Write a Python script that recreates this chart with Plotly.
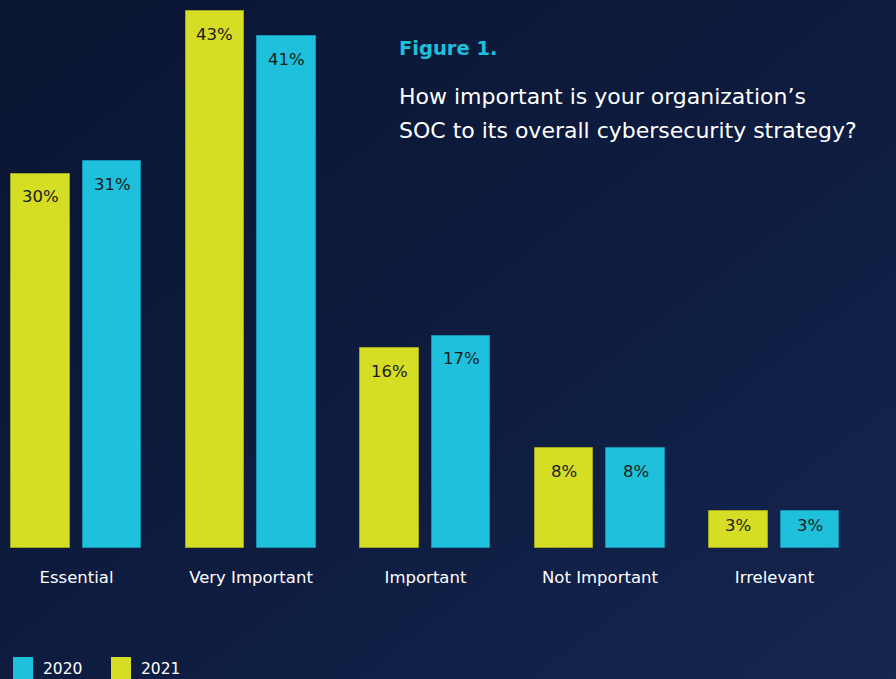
import base64
import plotly.graph_objects as go

# Survey results: importance of the SOC to overall cybersecurity strategy
categories = ["Essential", "Very Important", "Important", "Not Important", "Irrelevant"]
values_2021 = [30, 43, 16, 8, 3]
values_2020 = [31, 41, 17, 8, 3]
series_names = ["2021", "2020"]

YELLOW = "#d5dd24"
CYAN = "#1fc0dc"
FONT = "'DejaVu Sans', 'Open Sans', sans-serif"

W, H = 896, 679
BASE_PX = 548          # pixel row of the zero line
PX_PER_UNIT = 12.48    # vertical pixels per percentage point


def py(ypx):
    """Convert a page pixel row to paper y (plot area spans rows 0..BASE_PX)."""
    return (BASE_PX - ypx) / BASE_PX


# Diagonal navy gradient used as the page background
svg = f"""<svg xmlns='http://www.w3.org/2000/svg' width='{W}' height='{H}'>
<defs><linearGradient id='g' x1='0' y1='0' x2='1' y2='1'>
<stop offset='0' stop-color='#0a1531'/>
<stop offset='0.55' stop-color='#0e1c40'/>
<stop offset='1' stop-color='#15264f'/>
</linearGradient></defs>
<rect width='{W}' height='{H}' fill='url(#g)'/></svg>"""
bg_uri = "data:image/svg+xml;base64," + base64.b64encode(svg.encode()).decode()

fig = go.Figure()

bar_w = 0.335
offsets = [-0.375, 0.037]
colors = [YELLOW, CYAN]
edges = ["#9fa51c", "#1690b0"]
for name, vals, off, col, edge in zip(series_names, [values_2021, values_2020], offsets, colors, edges):
    fig.add_trace(go.Bar(
        x=categories, y=vals, name=name,
        width=bar_w, offset=off,
        marker=dict(color=col, line=dict(color=edge, width=1)),
        showlegend=False, hoverinfo="skip",
    ))
    # value labels sitting inside the top of each bar
    for i, v in enumerate(vals):
        shift = min(23, v * PX_PER_UNIT / 2 - 4)
        fig.add_annotation(
            x=i + off + bar_w / 2, y=v, xref="x", yref="y",
            text=f"{v}%", showarrow=False, yshift=-shift,
            font=dict(family=FONT, size=16.5, color="#1b1b1b"),
        )

# x range chosen so groups sit 174.5 px apart across the full width
unit = 174.5
x0 = -76.5 / unit
x1 = x0 + W / unit
fig.update_xaxes(
    range=[x0, x1], type="category", showgrid=False, zeroline=False,
    showline=False, ticks="", ticklabelstandoff=17,
    tickfont=dict(family=FONT, size=16.5, color="#ffffff"),
)
fig.update_yaxes(
    range=[0, BASE_PX / PX_PER_UNIT], showgrid=False, zeroline=False,
    showline=False, showticklabels=False,
)

# Title block
fig.add_annotation(
    x=397 / W, y=py(48), xref="paper", yref="paper",
    xanchor="left", yanchor="middle", showarrow=False,
    text="<b>Figure 1.</b>", font=dict(family=FONT, size=19.5, color="#1cc0dc"),
)
for line, ypx in [("How important is your organization’s", 97),
                  ("SOC to its overall cybersecurity strategy?", 130)]:
    fig.add_annotation(
        x=397 / W, y=py(ypx), xref="paper", yref="paper",
        xanchor="left", yanchor="middle", showarrow=False,
        text=line, font=dict(family=FONT, size=22, color="#ffffff"),
    )

# Legend drawn as swatches and labels along the bottom edge
legend_items = [("2020", CYAN, 13), ("2021", YELLOW, 111)]
for label, col, xpx in legend_items:
    fig.add_shape(
        type="rect", xref="paper", yref="paper",
        x0=xpx / W, x1=(xpx + 20) / W, y0=py(680), y1=py(657),
        fillcolor=col, line=dict(width=0),
    )
    fig.add_annotation(
        x=(xpx + 28) / W, y=py(669), xref="paper", yref="paper",
        xanchor="left", yanchor="middle", showarrow=False,
        text=label, font=dict(family=FONT, size=15.5, color="#ffffff"),
    )

fig.add_layout_image(dict(
    source=bg_uri, xref="paper", yref="paper",
    x=0, y=1, sizex=1, sizey=H / BASE_PX,
    xanchor="left", yanchor="top", sizing="stretch", layer="below",
))

fig.update_layout(
    width=W, height=H,
    margin=dict(l=0, r=0, t=0, b=H - BASE_PX),
    paper_bgcolor="#0d1a3b", plot_bgcolor="rgba(0,0,0,0)",
    bargap=0, barmode="overlay",
)

fig.write_html("out.html")
